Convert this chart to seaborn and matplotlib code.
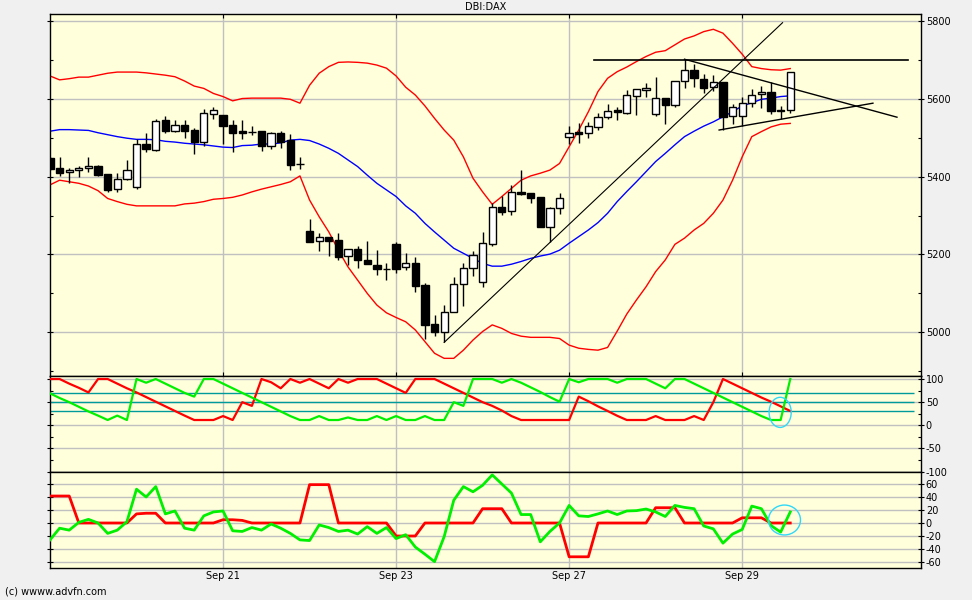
import numpy as np
import matplotlib
matplotlib.use('Agg')
import matplotlib.pyplot as plt
from matplotlib.patches import Ellipse
from matplotlib.ticker import MultipleLocator
import seaborn as sns

plt.rcParams['axes.unicode_minus'] = False

# ── data (hourly candles) ─────────────────────────────────────────────────
opens = [5447, 5422, 5411, 5416, 5422, 5427, 5407, 5368, 5393, 5373,
         5484, 5469, 5545, 5518, 5533, 5520, 5488, 5562, 5559, 5533,
         5517, 5516, 5517, 5480, 5512, 5494, 5433, 5260, 5234, 5244,
         5237, 5196, 5214, 5186, 5173, 5163, 5227, 5167, 5177, 5122,
         5021, 5000, 5053, 5123, 5164, 5128, 5228, 5321, 5311, 5360,
         5359, 5347, 5271, 5319, 5503, 5514, 5512, 5529, 5553, 5571,
         5565, 5607, 5622, 5560, 5602, 5584, 5646, 5674, 5650, 5630,
         5643, 5556, 5556, 5589, 5612, 5618, 5571, 5571]
highs = [5450, 5450, 5423, 5428, 5451, 5430, 5407, 5409, 5443, 5496,
         5512, 5549, 5556, 5546, 5546, 5526, 5574, 5579, 5559, 5546,
         5546, 5531, 5517, 5514, 5517, 5510, 5451, 5291, 5256, 5244,
         5254, 5213, 5222, 5235, 5211, 5177, 5232, 5203, 5194, 5126,
         5044, 5070, 5143, 5179, 5210, 5258, 5333, 5350, 5379, 5417,
         5359, 5349, 5321, 5359, 5530, 5537, 5541, 5565, 5586, 5580,
         5622, 5625, 5640, 5656, 5602, 5646, 5702, 5689, 5665, 5661,
         5643, 5586, 5604, 5625, 5633, 5643, 5582, 5668]
lows = [5418, 5402, 5385, 5400, 5413, 5402, 5361, 5361, 5391, 5369,
        5464, 5467, 5512, 5516, 5500, 5458, 5480, 5549, 5484, 5463,
        5498, 5507, 5465, 5472, 5475, 5417, 5421, 5233, 5210, 5197,
        5186, 5174, 5166, 5175, 5147, 5134, 5153, 5160, 5104, 4983,
        4991, 4974, 5051, 5068, 5144, 5117, 5222, 5302, 5302, 5353,
        5333, 5271, 5231, 5305, 5484, 5487, 5500, 5520, 5548, 5545,
        5562, 5558, 5604, 5557, 5535, 5580, 5627, 5631, 5614, 5621,
        5520, 5536, 5530, 5578, 5576, 5560, 5548, 5565]
closes = [5421, 5410, 5417, 5422, 5427, 5405, 5367, 5393, 5416, 5483,
          5471, 5542, 5518, 5533, 5518, 5488, 5563, 5571, 5531, 5513,
          5513, 5515, 5480, 5512, 5490, 5431, 5432, 5233, 5244, 5235,
          5194, 5213, 5185, 5175, 5162, 5163, 5163, 5177, 5120, 5020,
          5000, 5053, 5123, 5165, 5199, 5229, 5321, 5310, 5360, 5356,
          5346, 5271, 5319, 5344, 5513, 5509, 5530, 5553, 5568, 5566,
          5609, 5625, 5627, 5602, 5584, 5646, 5674, 5653, 5627, 5643,
          5554, 5578, 5589, 5611, 5618, 5568, 5568, 5668]

# bollinger bands
bb_upper = [5659, 5649, 5652, 5656, 5656, 5661, 5666, 5669, 5669, 5669,
            5667, 5664, 5661, 5657, 5646, 5633, 5627, 5614, 5606, 5595,
            5601, 5602, 5602, 5602, 5602, 5599, 5589, 5635, 5666, 5683,
            5694, 5695, 5694, 5692, 5687, 5679, 5659, 5630, 5610, 5582,
            5550, 5520, 5494, 5451, 5396, 5361, 5329, 5349, 5370, 5391,
            5402, 5409, 5417, 5434, 5477, 5520, 5567, 5619, 5653, 5670,
            5682, 5696, 5709, 5720, 5724, 5739, 5754, 5762, 5773, 5779,
            5769, 5743, 5715, 5683, 5678, 5675, 5674, 5678]
bb_mid = [5517, 5521, 5521, 5520, 5519, 5513, 5508, 5503, 5499, 5496,
          5496, 5495, 5491, 5489, 5486, 5484, 5482, 5479, 5476, 5475,
          5480, 5481, 5484, 5484, 5487, 5494, 5496, 5493, 5484, 5473,
          5460, 5443, 5426, 5404, 5383, 5366, 5349, 5325, 5306, 5280,
          5258, 5237, 5216, 5203, 5190, 5177, 5170, 5170, 5175, 5182,
          5190, 5196, 5201, 5211, 5229, 5246, 5263, 5282, 5306, 5336,
          5362, 5387, 5413, 5439, 5460, 5482, 5503, 5517, 5530, 5541,
          5554, 5567, 5582, 5590, 5599, 5602, 5606, 5608]
bb_lower = [5379, 5391, 5387, 5383, 5376, 5364, 5344, 5336, 5329, 5325,
            5325, 5325, 5325, 5325, 5330, 5332, 5336, 5342, 5344, 5347,
            5353, 5361, 5368, 5374, 5380, 5387, 5402, 5340, 5297, 5258,
            5211, 5168, 5134, 5100, 5070, 5050, 5038, 5027, 5006, 4976,
            4946, 4933, 4933, 4954, 4980, 5002, 5019, 5010, 4997, 4990,
            4987, 4987, 4987, 4984, 4967, 4959, 4956, 4954, 4961, 5003,
            5047, 5083, 5117, 5156, 5186, 5226, 5242, 5263, 5280, 5306,
            5340, 5391, 5451, 5503, 5516, 5528, 5535, 5537]

# oscillator 1 (0..100 scale)
osc1_red = [100, 100, 90, 81, 71, 100, 100, 90, 80, 71,
            61, 51, 41, 31, 21, 11.5, 11.5, 11.5, 20, 11.5,
            50, 42, 100, 93, 80, 100, 92, 100, 90, 80,
            100, 92, 100, 100, 100, 90, 80, 70, 100, 100,
            100, 90, 80, 70, 60, 50, 42, 32, 20, 11.5,
            11.5, 11.5, 11.5, 11.5, 11.5, 62, 52, 41, 31, 20.6,
            11.5, 11.5, 11.5, 20, 11.5, 11.5, 11.5, 20, 11.5, 50,
            100, 90, 80, 70, 60, 51, 41, 31]
osc1_green = [69, 59, 50, 40, 30, 21, 11.5, 21, 11.5, 100,
              92, 100, 90, 80, 70, 62, 100, 100, 90, 80,
              70, 60, 50, 40, 30, 20, 11.5, 11.5, 20, 11.5,
              11.5, 17, 11.5, 11.5, 20, 11.5, 20, 11.5, 11.5, 20,
              11.5, 11.5, 50, 42, 100, 100, 100, 92, 100, 92,
              82, 72, 61, 51, 100, 93, 100, 100, 100, 92,
              100, 100, 100, 90, 80, 100, 100, 90, 80, 70,
              60, 50, 40, 30, 20, 11.5, 11.5, 100]

# oscillator 2
osc2_red = [41.5, 41.5, 41.5, 0, 0, 0, 0, 0, 0, 14,
            15, 15, 0, 0, 0, 0, 0, 0, 5, 5,
            4, 0, 0, 0, 0, 0, 0, 59, 59, 59,
            0, 0, 0, 0, 0, 0, -20, -20, -20, 0,
            0, 0, 0, 0, 0, 22, 22, 22, 0, 0,
            0, 0, 0, 0, -52, -52, -52, 0, 0, 0,
            0, 0, 0, 23.5, 23.5, 23.5, 0, 0, 0, 0,
            0, 0, 8, 8, 8, 0, 0, 0]
osc2_green = [-26, -8, -11, 1, 5.6, 0, -16, -11, 2, 52,
              40, 56, 14, 18.5, -8, -11, 11, 17, 18.5, -12,
              -13, -7, -11, -1.5, -8, -16, -26, -27, -3, -7,
              -13, -11, -17, -5.6, -16, -7, -24, -18, -37, -48,
              -59.5, -21, 35, 56, 48, 58, 74, 60, 46, 13,
              13, -29, -13, 0, 27, 11, 10, 14, 18.5, 13,
              18.5, 19, 21.5, 17, 10, 27, 24, 22, -4.6, -9,
              -31, -17, -10, 26, 22, -4, -14, 17]

date_pos = [18, 36, 54, 72]
date_labels = ['Sep 21', 'Sep 23', 'Sep 27', 'Sep 29']

# hand-drawn lines: (x0, x1), (y0, y1) in candle index / price
trend_up = ((41, 76.2), (4974, 5796))
resist = ((56.6, 89.2), (5700, 5700))
tri_top = ((66, 88.1), (5702, 5553))
tri_bottom = ((69.6, 85.6), (5520, 5589))

BG = '#FFFFDC'
GRID = '#C0C0C0'
idx = np.arange(len(closes))

# ── figure ────────────────────────────────────────────────────────────────
fig = plt.figure(figsize=(9.72, 6.0), dpi=100, facecolor='#F0F0F0')
L, W = 50 / 972, 871 / 972
ax = fig.add_axes([L, 1 - 376 / 600, W, 362 / 600])
ax1 = fig.add_axes([L, 1 - 472.3 / 600, W, 96.3 / 600], sharex=ax)
ax2 = fig.add_axes([L, 1 - 568.3 / 600, W, 96 / 600], sharex=ax)

for a in (ax, ax1, ax2):
    a.set_facecolor(BG)
    for s in a.spines.values():
        s.set_color('black')
        s.set_linewidth(1)
    a.yaxis.tick_right()
    a.tick_params(axis='y', which='major', left=True, right=True, direction='inout',
                  length=5, width=0.8, labelsize=7, pad=1)
    a.tick_params(axis='y', which='minor', left=True, right=True, direction='in',
                  length=2, width=0.8)
    a.tick_params(axis='x', length=0, labelbottom=False)
    a.grid(True, axis='both', which='major', color=GRID, lw=1, zorder=0)
    a.set_axisbelow(True)
    a.set_xticks(date_pos)

# ── main price panel ──────────────────────────────────────────────────────
sns.lineplot(x=idx, y=bb_upper, ax=ax, color='red', lw=1, zorder=2)
sns.lineplot(x=idx, y=bb_lower, ax=ax, color='red', lw=1, zorder=2)
sns.lineplot(x=idx, y=bb_mid, ax=ax, color='blue', lw=1, zorder=2)

o = np.array(opens)
c = np.array(closes)
up = c >= o
ax.vlines(idx, lows, highs, color='black', lw=1, zorder=3)
ax.bar(idx, np.abs(c - o), bottom=np.minimum(o, c), width=0.76,
       color=np.where(up, 'white', 'black'), edgecolor='black', lw=1, zorder=4)

for (xs, ys), lw in [(trend_up, 0.8), (resist, 1.2), (tri_top, 1.0), (tri_bottom, 1.0)]:
    ax.plot(xs, ys, color='black', lw=lw, zorder=5)

ax.set_ylim(4887.6, 5818.3)
ax.set_yticks([5000, 5200, 5400, 5600, 5800])
ax.yaxis.set_minor_locator(MultipleLocator(100))
ax.tick_params(axis='x', top=True, direction='in', length=3)

# ── oscillator 1 ──────────────────────────────────────────────────────────
sns.lineplot(x=idx, y=osc1_red, ax=ax1, color='#FF0000', lw=1.6, zorder=3)
sns.lineplot(x=idx, y=osc1_green, ax=ax1, color='#00F000', lw=1.6, zorder=3)
ax1.hlines([70, 50, 30], 0, 89.9, color='#009A9A', lw=1, zorder=2)
ax1.add_patch(Ellipse((75.95, 28), 2.3, 65, fill=False, edgecolor='#30D8F8', lw=1, zorder=4))
ax1.set_ylim(-101.4, 106.5)
ax1.set_yticks([100, 50, 0, -50, -100])
ax1.yaxis.set_minor_locator(MultipleLocator(25))

# ── oscillator 2 ──────────────────────────────────────────────────────────
sns.lineplot(x=idx, y=osc2_red, ax=ax2, color='#FF0000', lw=2, zorder=3)
sns.lineplot(x=idx, y=osc2_green, ax=ax2, color='#00F000', lw=2, zorder=3)
ax2.add_patch(Ellipse((76.4, 4.6), 3.33, 46, fill=False, edgecolor='#30D8F8', lw=1, zorder=4))
ax2.set_ylim(-69.7, 78)
ax2.set_yticks([60, 40, 20, 0, -20, -40, -60])
ax2.set_xticklabels(date_labels)
ax2.tick_params(axis='x', labelbottom=True, labelsize=7, pad=2)

for a in (ax, ax1, ax2):
    a.set_xlim(0, 90.6)
    a.set_xlabel('')
    a.set_ylabel('')

fig.text(486 / 972, 1 - 7 / 600, 'DBI:DAX', ha='center', va='center', fontsize=7)
fig.text(5 / 972, 1 - 592 / 600, '(c) wwww.advfn.com', ha='left', va='center', fontsize=7)

plt.savefig('out.png', dpi=100, facecolor=fig.get_facecolor())
plt.close()
